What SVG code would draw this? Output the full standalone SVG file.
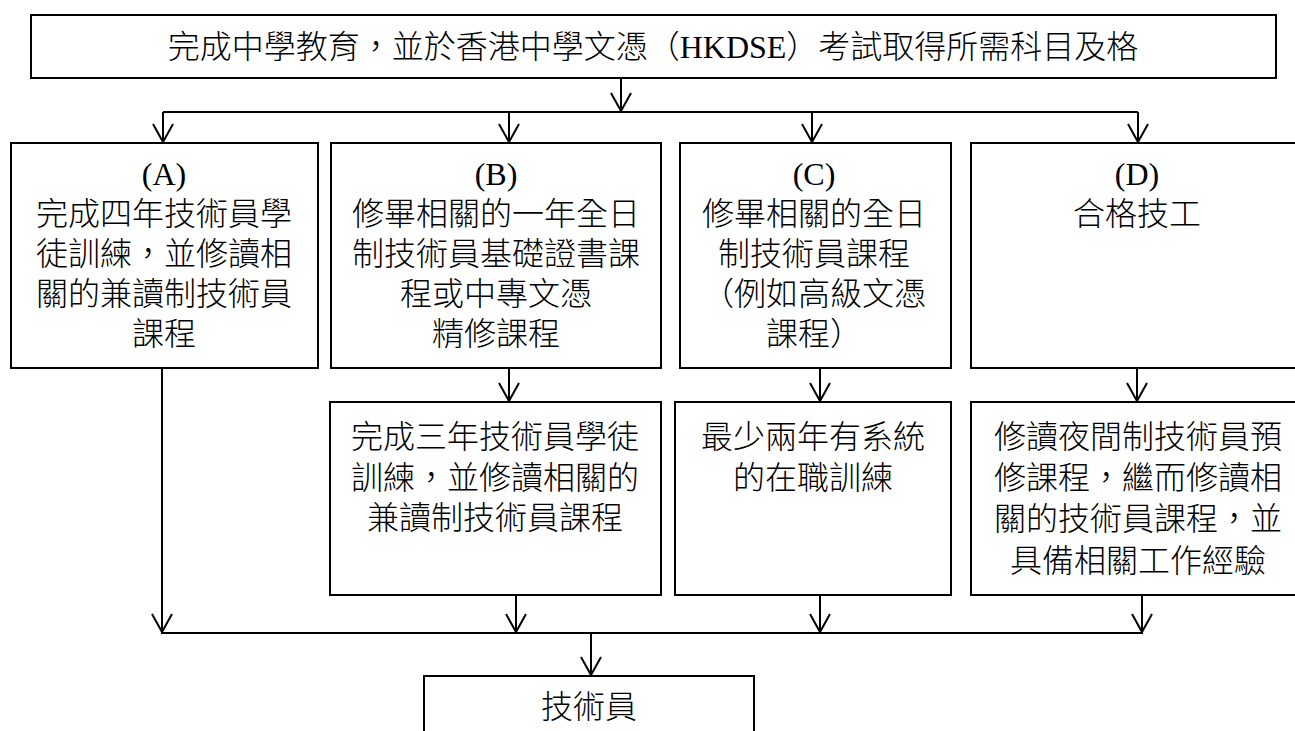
<svg xmlns="http://www.w3.org/2000/svg" width="1295" height="731" viewBox="0 0 1295 731">
<style>
.box{fill:#fff;stroke:#000;stroke-width:2}
.t{font-family:"Liberation Serif","Noto Sans CJK TC",serif;font-size:32px;font-weight:300;fill:#000;text-anchor:middle}
.c{fill:none;stroke:#000;stroke-width:2}
</style>
<defs>
<marker id="ah" viewBox="-20 -12 22 24" markerWidth="22" markerHeight="24" refX="0" refY="0" orient="auto" markerUnits="userSpaceOnUse">
<path d="M-18,-10 L0,0 L-18,10" fill="none" stroke="#000" stroke-width="2"/>
</marker>
</defs>
<rect width="1295" height="731" fill="#fff"/>
<g id="connectors">
<line class="c" x1="621" y1="78" x2="621" y2="111" marker-end="url(#ah)"/>
<line class="c" x1="163" y1="112" x2="1138" y2="112"/>
<line class="c" x1="163" y1="112" x2="163" y2="142" marker-end="url(#ah)"/>
<line class="c" x1="509" y1="112" x2="509" y2="142" marker-end="url(#ah)"/>
<line class="c" x1="812" y1="112" x2="812" y2="142" marker-end="url(#ah)"/>
<line class="c" x1="1138" y1="112" x2="1138" y2="142" marker-end="url(#ah)"/>
<line class="c" x1="509" y1="368" x2="509" y2="401" marker-end="url(#ah)"/>
<line class="c" x1="820" y1="368" x2="820" y2="401" marker-end="url(#ah)"/>
<line class="c" x1="1137" y1="368" x2="1137" y2="401" marker-end="url(#ah)"/>
<line class="c" x1="162" y1="368" x2="162" y2="632" marker-end="url(#ah)"/>
<line class="c" x1="516" y1="595" x2="516" y2="632" marker-end="url(#ah)"/>
<line class="c" x1="820" y1="595" x2="820" y2="632" marker-end="url(#ah)"/>
<line class="c" x1="1142" y1="595" x2="1142" y2="632" marker-end="url(#ah)"/>
<line class="c" x1="161" y1="633" x2="1143" y2="633"/>
<line class="c" x1="591" y1="633" x2="591" y2="675" marker-end="url(#ah)"/>
</g>
<g id="top">
<rect class="box" x="31" y="15" width="1245" height="63"/>
<text class="t" x="653" y="58">完成中學教育，並於香港中學文憑（HKDSE）考試取得所需科目及格</text>
</g>
<g id="nodeA">
<rect class="box" x="11" y="143" width="307" height="225"/>
<text class="t" x="164" y="185">(A)</text>
<text class="t" x="164" y="225">完成四年技術員學</text>
<text class="t" x="164" y="265">徒訓練，並修讀相</text>
<text class="t" x="164" y="305">關的兼讀制技術員</text>
<text class="t" x="164" y="345">課程</text>
</g>
<g id="nodeB">
<rect class="box" x="331" y="143" width="330" height="225"/>
<text class="t" x="496" y="185">(B)</text>
<text class="t" x="496" y="225">修畢相關的一年全日</text>
<text class="t" x="496" y="265">制技術員基礎證書課</text>
<text class="t" x="496" y="305">程或中專文憑</text>
<text class="t" x="496" y="345">精修課程</text>
</g>
<g id="nodeC">
<rect class="box" x="680" y="143" width="271" height="225"/>
<text class="t" x="814" y="185">(C)</text>
<text class="t" x="814" y="225">修畢相關的全日</text>
<text class="t" x="814" y="265">制技術員課程</text>
<text class="t" x="814" y="305">（例如高級文憑</text>
<text class="t" x="814" y="345">課程）</text>
</g>
<g id="nodeD">
<rect class="box" x="971" y="143" width="335" height="225"/>
<text class="t" x="1137" y="185">(D)</text>
<text class="t" x="1137" y="225">合格技工</text>
</g>
<g id="nodeB2">
<rect class="box" x="330" y="402" width="331" height="193"/>
<text class="t" x="495" y="448">完成三年技術員學徒</text>
<text class="t" x="495" y="489">訓練，並修讀相關的</text>
<text class="t" x="495" y="529">兼讀制技術員課程</text>
</g>
<g id="nodeC2">
<rect class="box" x="675" y="402" width="276" height="193"/>
<text class="t" x="813" y="448">最少兩年有系統</text>
<text class="t" x="813" y="489">的在職訓練</text>
</g>
<g id="nodeD2">
<rect class="box" x="971" y="402" width="335" height="193"/>
<text class="t" x="1138" y="448">修讀夜間制技術員預</text>
<text class="t" x="1138" y="489">修課程，繼而修讀相</text>
<text class="t" x="1138" y="530">關的技術員課程，並</text>
<text class="t" x="1138" y="572">具備相關工作經驗</text>
</g>
<g id="final">
<rect class="box" x="424" y="676" width="330" height="70"/>
<text class="t" x="589" y="718">技術員</text>
</g>
</svg>
